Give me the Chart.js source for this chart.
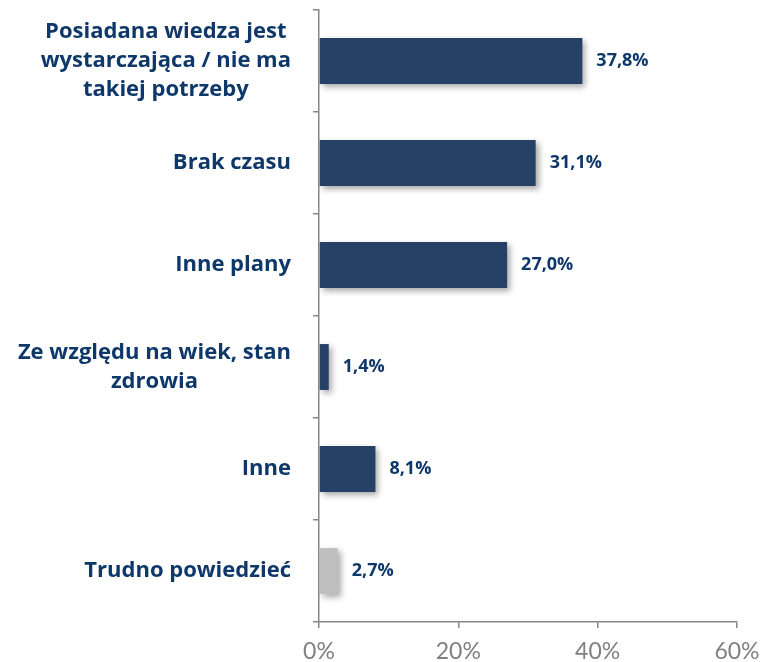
<!DOCTYPE html>
<html lang="pl">
<head>
    <meta charset="UTF-8">
    <title>Powody</title>
    <script src="https://cdn.jsdelivr.net/npm/chart.js"></script>
    <style>
        body { margin: 0; background: #ffffff; }
        #wrap { width: 760px; height: 662px; position: relative; }
    </style>
</head>
<body>
    <div id="wrap"><canvas id="chart"></canvas></div>

    <script>
        // data
        const categories = [
            ['Posiadana wiedza jest', 'wystarczająca / nie ma', 'takiej potrzeby'],
            ['Brak czasu'],
            ['Inne plany'],
            ['Ze względu na wiek, stan', 'zdrowia'],
            ['Inne'],
            ['Trudno powiedzieć']
        ];
        const values = [37.8, 31.1, 27.0, 1.4, 8.1, 2.7];
        const barColors = ['#264066', '#264066', '#264066', '#264066', '#264066', '#BFBFBF'];
        const xTicks = [0, 20, 40, 60];

        const navy = '#0F386A';
        const labelFont = 'bold 22px "Open Sans"';
        const valueFont = 'bold 18px "Open Sans"';

        // bar shadows
        const shadowPlugin = {
            id: 'shadow',
            beforeDatasetsDraw(chart) {
                const c = chart.ctx;
                c.save();
                c.shadowColor = 'rgba(0,0,0,0.35)';
                c.shadowBlur = 6;
                c.shadowOffsetX = 3;
                c.shadowOffsetY = 3;
            },
            afterDatasetsDraw(chart) {
                chart.ctx.restore();
            }
        };

        // category labels (lines centred inside a right-aligned block) + value labels
        const labelsPlugin = {
            id: 'labels',
            afterDraw(chart) {
                const c = chart.ctx;
                const y = chart.scales.y;
                const x = chart.scales.x;
                const lineH = 29;
                const rightEdge = 291;
                c.save();
                c.fillStyle = navy;
                c.textBaseline = 'middle';
                c.font = labelFont;
                c.textAlign = 'center';
                categories.forEach((lines, i) => {
                    const cy = y.getPixelForTick(i);
                    const w = Math.max(...lines.map(l => c.measureText(l).width));
                    const cx = rightEdge - w / 2;
                    const top = cy - (lines.length - 1) * lineH / 2;
                    lines.forEach((l, k) => c.fillText(l, cx, top + k * lineH));
                });
                c.font = valueFont;
                c.textAlign = 'left';
                values.forEach((v, i) => {
                    const px = x.getPixelForValue(v) + 14;
                    const py = y.getPixelForTick(i);
                    c.fillText(v.toFixed(1).replace('.', ',') + '%', px, py);
                });
                c.restore();
            }
        };

        const ctx = document.getElementById('chart').getContext('2d');
        new Chart(ctx, {
            type: 'bar',
            data: {
                labels: categories.map(l => l.join(' ')),
                datasets: [{
                    data: values,
                    backgroundColor: barColors,
                    borderWidth: 0,
                    barPercentage: 0.45,
                    categoryPercentage: 1.0
                }]
            },
            options: {
                indexAxis: 'y',
                responsive: true,
                maintainAspectRatio: false,
                animation: false,
                layout: { padding: { top: 10, right: 23, left: 0, bottom: 0 } },
                plugins: {
                    legend: { display: false },
                    tooltip: { enabled: false }
                },
                scales: {
                    x: {
                        min: 0,
                        max: 60,
                        afterBuildTicks(scale) {
                            scale.ticks = xTicks.map(v => ({ value: v }));
                        },
                        afterFit(scale) {
                            scale.height = 40;
                            scale.paddingRight = 0;
                            scale.paddingLeft = 0;
                        },
                        grid: {
                            drawOnChartArea: false,
                            color: '#868686',
                            tickLength: 6,
                            lineWidth: 1.5
                        },
                        border: { color: '#868686', width: 1.5 },
                        ticks: {
                            color: '#808080',
                            font: { family: 'Lato', size: 23 },
                            padding: 10,
                            callback: v => v + '%'
                        }
                    },
                    y: {
                        afterFit(scale) { scale.width = 319; },
                        grid: {
                            drawOnChartArea: false,
                            offset: true,
                            color: '#868686',
                            tickLength: 6,
                            lineWidth: 1.5
                        },
                        border: { color: '#868686', width: 1.5 },
                        ticks: { display: false }
                    }
                }
            },
            plugins: [shadowPlugin, labelsPlugin]
        });
    </script>
</body>
</html>
